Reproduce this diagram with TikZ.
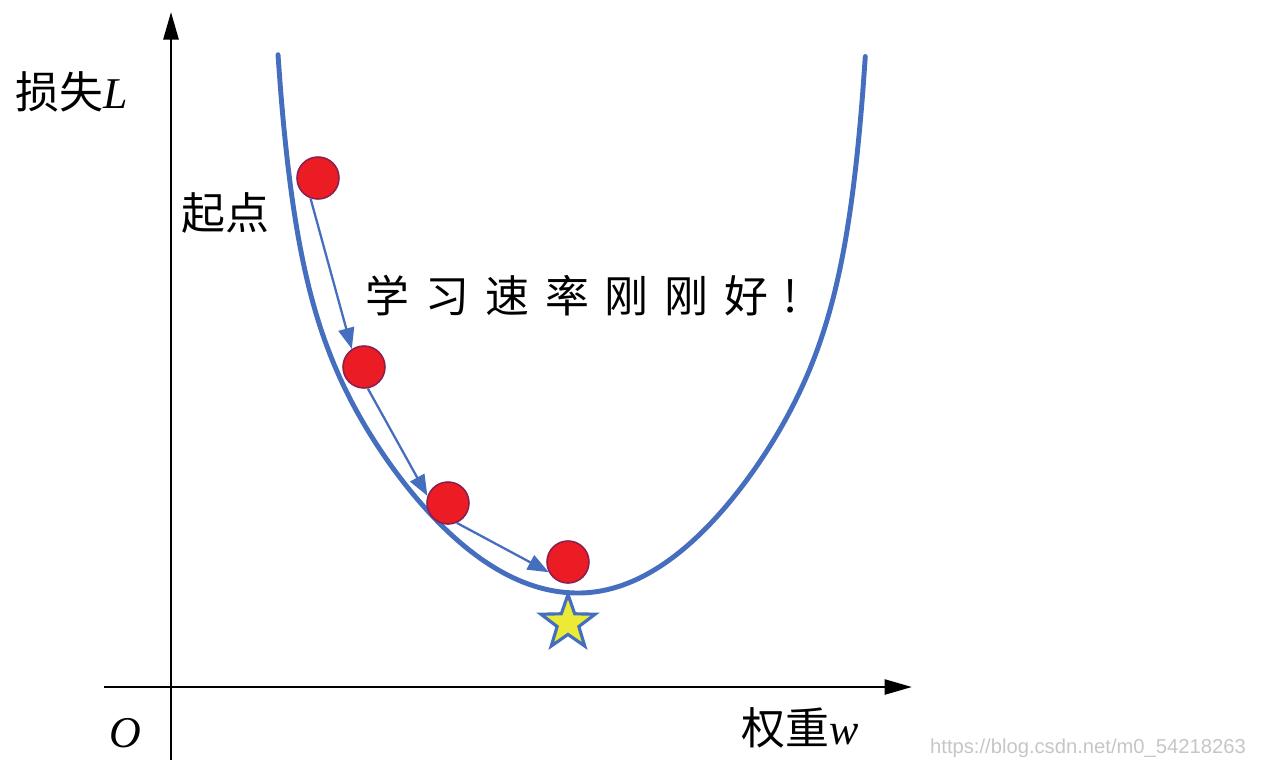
\documentclass[tikz,border=0pt]{standalone}
\usepackage{fontspec}
\setmainfont{Liberation Serif}
\newfontfamily\cjk{Noto Sans CJK SC}
\newfontfamily\cjkmano[LetterSpace=36]{Noto Sans CJK SC}
\newfontfamily\web{Liberation Sans}
\usepackage{tikz}
\usetikzlibrary{positioning, arrows.meta, shapes.geometric}

\definecolor{curva}{RGB}{70,110,190}
\definecolor{rosso}{RGB}{236,28,36}
\definecolor{bordo}{RGB}{140,30,80}
\definecolor{giallo}{RGB}{235,235,55}

\tikzset{
  asse/.style={line width=1.5pt, -{Triangle[length=5.5mm, width=3mm]}},
  palla/.style={circle, fill=rosso, draw=bordo, line width=0.9pt, minimum size=8.4mm, inner sep=0pt},
  passo/.style={curva, line width=1.3pt, -{Triangle[length=4.2mm, width=3.2mm]}},
  etichetta/.style={font=\fontsize{25}{30}\selectfont, inner sep=0pt},
  declare function={perdita(\d)=0.00363*\d*\d/(1-pow(\d/331,9.5));}
}

\begin{document}
\begin{tikzpicture}[x=0.02cm, y=-0.02cm]
  \useasboundingbox (0,0) rectangle (1279,762);
  % assi
  \coordinate (ybot) at (171,760);
  \coordinate (ytop) at (171,12);
  \coordinate (xsx) at (104,687);
  \coordinate (xdx) at (912,687);
  \draw[asse] (ybot) -- (ytop);
  \draw[asse] (xsx) -- (xdx);
  \node[etichetta] (lossL) at (72,92) {{\cjk 损失}\textit{L}};
  \node[etichetta] (orig) at (125,733) {\textit{O}};
  \node[etichetta] (pesow) at (800,728) {{\cjk 权重}\textit{w}};
  % curva di perdita (minimo in w=578)
  \draw[curva, line width=2.8pt, line cap=round] plot[domain=-300:287.3, samples=200, smooth]
    ({578+\x}, {593-perdita(max(-\x,\x/0.958))});
  % minimo
  \node[star, star points=5, star point ratio=2.5, fill=giallo, draw=curva,
        line width=1.8pt, minimum size=11.4mm, inner sep=0pt] (minimo) at (568,623) {};
  % passi della discesa
  \foreach \n/\x/\y in {c1/318/178, c2/364/367, c3/448/503, c4/568/562}{
    \node[palla] (\n) at (\x,\y) {};
  }
  \foreach \a/\b in {c1.-110/c2.124, c2.-80/c3.161, c3.-66/c4.-152}{
    \draw[passo] (\a) -- (\b);
  }
  \node[etichetta] (inizio) at (225,213) {\cjk 起点};
  \node[etichetta] (nota) at (582,296) {\cjkmano 学习速率刚刚好!};
  % filigrana
  \node[font=\web\fontsize{11.5}{13}\selectfont, text=gray!45, inner sep=0pt] (url) at (1088,748)
       {https://blog.csdn.net/m0\_54218263};
\end{tikzpicture}
\end{document}
